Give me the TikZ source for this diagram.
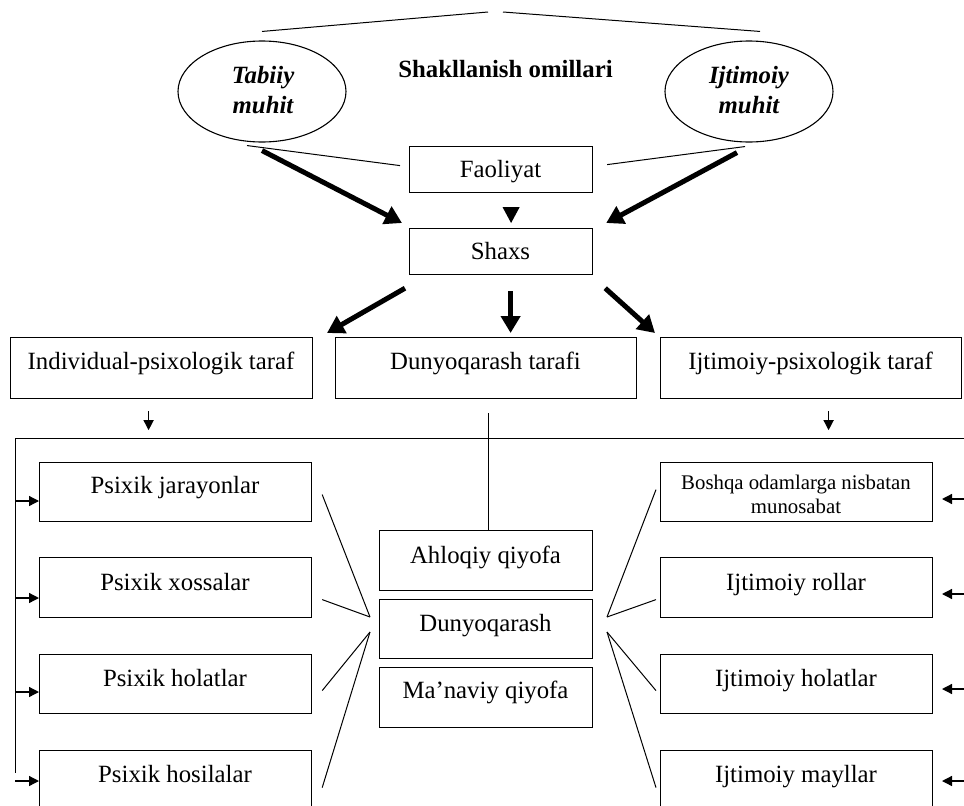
\documentclass[tikz,border=0pt]{standalone}
\usepackage{fontspec}
\setmainfont{Liberation Serif}
\usetikzlibrary{shapes.geometric,arrows.meta}
\begin{document}
\begin{tikzpicture}[x=1pt,y=-1pt,
  box/.style={draw,line width=1.2pt,inner sep=0pt,anchor=north west},
  oval/.style={draw,ellipse,line width=1.1pt,inner sep=0pt,minimum width=168pt,minimum height=101pt},
  txt/.style={anchor=base,inner sep=0pt,font=\fontsize{24.8}{28}\selectfont},
  btxt/.style={txt,font=\fontsize{24.8}{28}\selectfont\bfseries},
  bitxt/.style={txt,font=\fontsize{24.8}{28}\selectfont\bfseries\itshape},
  thin/.style={line width=1pt},
  thick arrow/.style={line width=5pt,-{Triangle[length=17pt,width=19pt]}},
  small arrow/.style={line width=1.3pt,-{Triangle[length=10pt,width=10pt]}}]
\useasboundingbox (0,0) rectangle (964,806);
% ellipses
\node[oval] (tab) at (262,91.5) {};
\node[oval] (ijt) at (749,91.5) {};
\node[bitxt] (tab1) at (263,83) {Tabiiy};
\node[bitxt] (tab2) at (263,113) {muhit};
\node[bitxt] (ijt1) at (749,83) {Ijtimoiy};
\node[bitxt] (ijt2) at (749,113) {muhit};
\node[btxt] (title) at (505.5,77) {Shakllanish omillari};
% top lines
\coordinate (topl) at (488,12);
\coordinate (topr) at (503,12);
\draw[thin] ([yshift=9pt]tab.north) -- (topl);
\draw[thin] (topr) -- ([xshift=11pt,yshift=9pt]ijt.north);
% boxes
\node[box,minimum width=183pt,minimum height=46pt] (fao) at (409,146) {};
\node[txt] (faot) at (500.5,177) {Faoliyat};
\node[box,minimum width=183pt,minimum height=46pt] (shx) at (409,228) {};
\node[txt] (shxt) at (500.5,259) {Shaxs};
\draw[thin] ([xshift=-15pt,yshift=-3pt]tab.south) -- ([xshift=-9pt,yshift=4pt]fao.west);
\draw[thin] ([xshift=-4pt,yshift=-4pt]ijt.south) -- ([xshift=14pt,yshift=5pt]fao.east);
\fill ([xshift=1.5pt,yshift=-14pt]fao.south) -- ([xshift=18.5pt,yshift=-14pt]fao.south) -- ([xshift=10pt,yshift=5pt]shx.north) -- cycle;
\draw[thick arrow] ([yshift=-8pt]tab.south) -- ([xshift=-7pt,yshift=5pt]shx.north west);
\draw[thick arrow] ([xshift=-12pt,yshift=-10pt]ijt.south) -- ([xshift=13pt,yshift=5pt]shx.north east);
% second row
\node[box,minimum width=302pt,minimum height=61pt] (ind) at (10,337) {};
\node[txt] (indt) at (161,369) {Individual-psixologik taraf};
\node[box,minimum width=301pt,minimum height=61pt] (dt) at (335,337) {};
\node[txt] (dtt) at (485.5,369) {Dunyoqarash tarafi};
\node[box,minimum width=301pt,minimum height=61pt] (ijp) at (660,337) {};
\node[txt] (ijpt) at (810.5,369) {Ijtimoiy-psixologik taraf};
\draw[thick arrow] ([xshift=-4pt,yshift=-13pt]shx.south west) -- ([xshift=-8pt,yshift=4pt]dt.north west);
\draw[thick arrow] ([xshift=9.5pt,yshift=-16pt]shx.south) -- ([xshift=24.5pt,yshift=4pt]dt.north);
\draw[thick arrow] ([xshift=12pt,yshift=-13pt]shx.south east) -- ([xshift=-5pt,yshift=4pt]ijp.north west);
% distribution lines
\coordinate (hl) at (15,438);
\coordinate (hr) at (964,438);
\coordinate (vb) at (15,773);
\draw[thin] (hl) -- (hr);
\draw[thin] (hl) -- (vb);
\draw[small arrow] ([xshift=-13pt,yshift=-12pt]ind.south) -- ([xshift=-13pt,yshift=-31pt]ind.south);
\draw[small arrow] ([xshift=17.5pt,yshift=-12pt]ijp.south) -- ([xshift=17.5pt,yshift=-31pt]ijp.south);
% centre boxes
\node[box,minimum width=213pt,minimum height=60pt] (ahl) at (379,530) {};
\node[txt] (ahlt) at (485.5,563) {Ahloqiy qiyofa};
\node[box,minimum width=213pt,minimum height=59pt] (dq) at (379,599) {};
\node[txt] (dqt) at (485.5,631) {Dunyoqarash};
\node[box,minimum width=213pt,minimum height=60pt] (mq) at (379,667) {};
\node[txt] (mqt) at (485.5,698) {Ma’naviy qiyofa};
\draw[thin] ([xshift=2.5pt,yshift=-14pt]dt.south) -- ([xshift=2.5pt]ahl.north);
% left boxes
\node[box,minimum width=272pt,minimum height=59pt] (pj) at (39,462) {};
\node[txt] (pjt) at (175,493) {Psixik jarayonlar};
\node[box,minimum width=272pt,minimum height=60pt] (pxs) at (39,557) {};
\node[txt] (pxst) at (175,590) {Psixik xossalar};
\node[box,minimum width=272pt,minimum height=59pt] (ph) at (39,654) {};
\node[txt] (pht) at (175,686) {Psixik holatlar};
\node[box,minimum width=272pt,minimum height=62pt] (phs) at (39,750) {};
\node[txt] (phst) at (175,782) {Psixik hosilalar};
% right boxes
\node[box,minimum width=272pt,minimum height=59pt] (bo) at (660,462) {};
\node[txt,font=\fontsize{20.8}{24}\selectfont] (bot1) at (796,489) {Boshqa odamlarga nisbatan};
\node[txt,font=\fontsize{20.8}{24}\selectfont] (bot2) at (796,513) {munosabat};
\node[box,minimum width=272pt,minimum height=60pt] (ir) at (660,557) {};
\node[txt] (irt) at (796,590) {Ijtimoiy rollar};
\node[box,minimum width=272pt,minimum height=59pt] (ih) at (660,654) {};
\node[txt] (iht) at (796,686) {Ijtimoiy holatlar};
\node[box,minimum width=272pt,minimum height=62pt] (im) at (660,750) {};
\node[txt] (imt) at (796,782) {Ijtimoiy mayllar};
% side arrows
\foreach \y/\n in {501/1,598/2,692/3,781/4}{
  \coordinate (la\n) at (15,\y);
  \coordinate (lb\n) at (39,\y);
  \draw[small arrow] (la\n) -- (lb\n);
}
\foreach \y/\n in {499/1,594/2,689/3,781/4}{
  \coordinate (ra\n) at (964,\y);
  \coordinate (rb\n) at (942,\y);
  \draw[small arrow] (ra\n) -- (rb\n);
}
% fans
\coordinate (fl1) at (370,617);
\coordinate (fl2) at (370,632);
\coordinate (fr1) at (607,617);
\coordinate (fr2) at (607,632);
\draw[thin] ([xshift=10pt,yshift=-2.5pt]pj.east) -- (fl1);
\draw[thin] ([xshift=10pt,yshift=-12pt]pxs.east) -- (fl1);
\draw[thin] ([xshift=10pt,yshift=-6.5pt]ph.east) -- (fl2);
\draw[thin] ([xshift=10pt,yshift=-6pt]phs.east) -- (fl2);
\draw[thin] ([xshift=-4pt,yshift=2.5pt]bo.west) -- (fr1);
\draw[thin] ([xshift=-4pt,yshift=-12pt]ir.west) -- (fr1);
\draw[thin] ([xshift=-4pt,yshift=-6.5pt]ih.west) -- (fr2);
\draw[thin] ([xshift=-4pt,yshift=-6pt]im.west) -- (fr2);
\end{tikzpicture}
\end{document}
